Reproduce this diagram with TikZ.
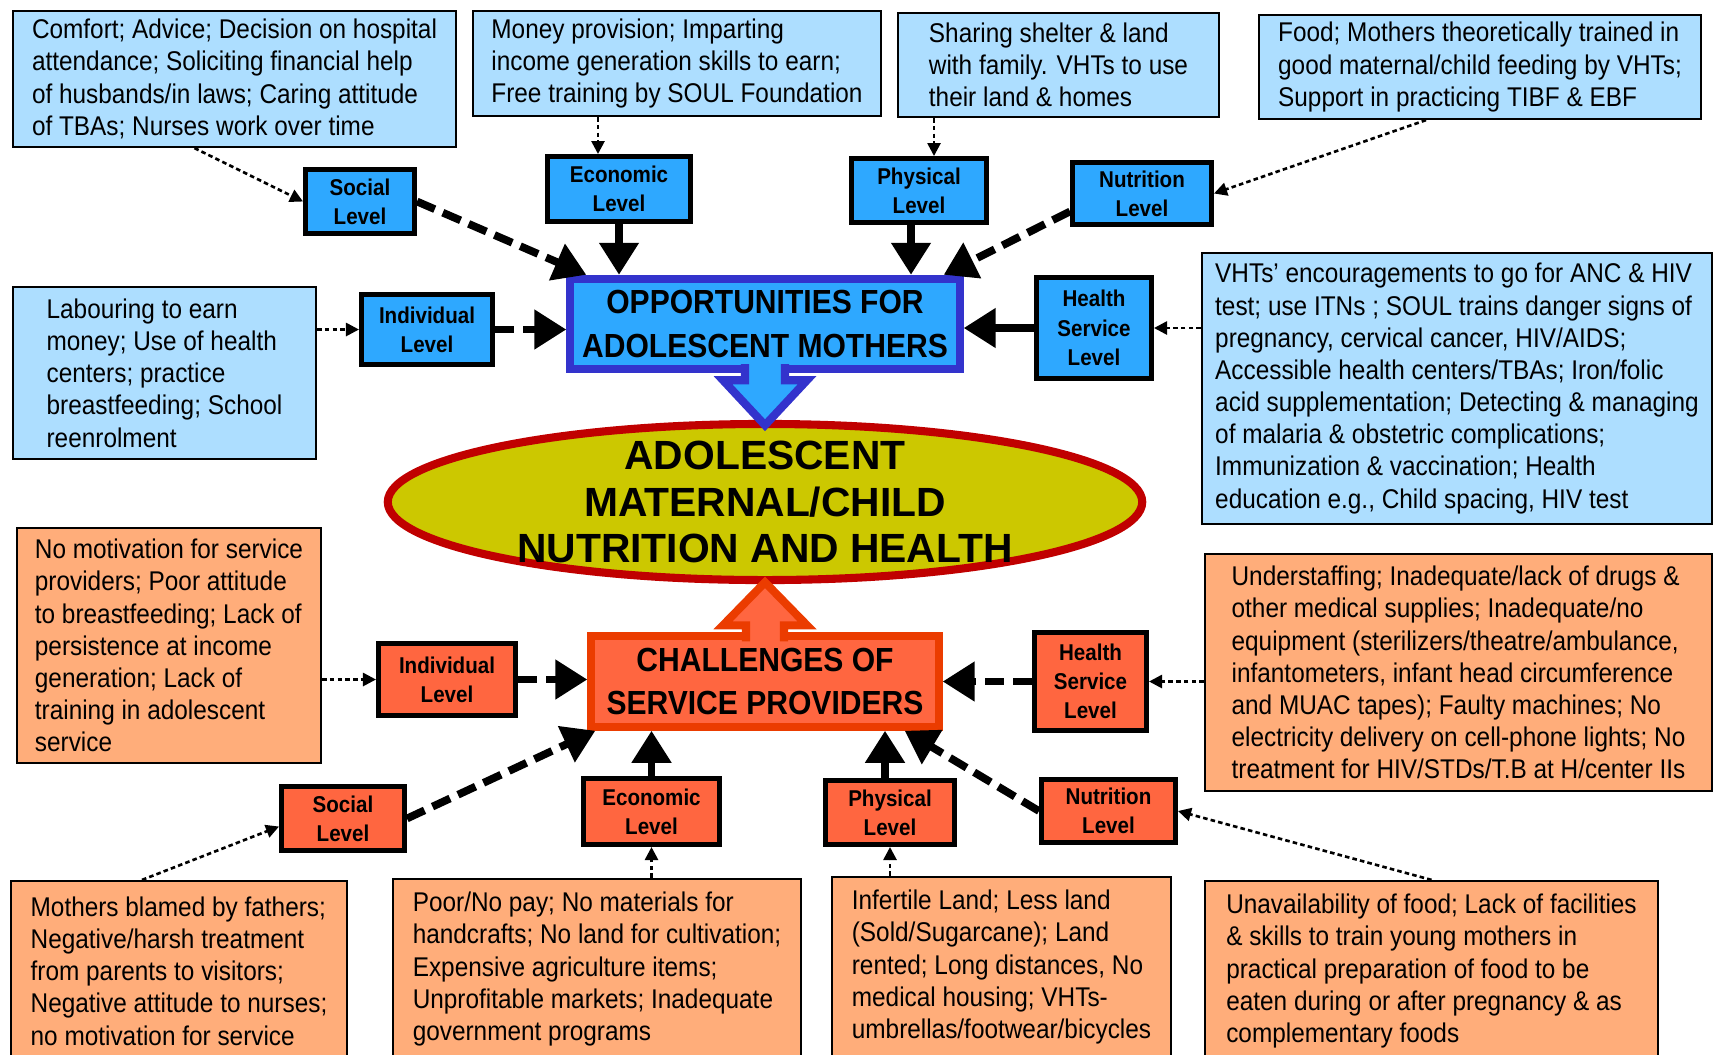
\documentclass[tikz,border=0pt]{standalone}
\usepackage{fontspec}
\setmainfont{Liberation Sans}[FakeStretch=0.9]
\newfontfamily\widefont{Liberation Sans}
\usepackage{tikz}
\usetikzlibrary{shapes.geometric, arrows.meta, calc}

\definecolor{optxt}{RGB}{173,222,255}
\definecolor{oplvl}{RGB}{46,168,255}
\definecolor{opedge}{RGB}{51,51,204}
\definecolor{chtxt}{RGB}{255,173,122}
\definecolor{chlvl}{RGB}{255,102,64}
\definecolor{chedge}{RGB}{235,60,0}
\definecolor{goalfill}{RGB}{204,200,0}
\definecolor{goaledge}{RGB}{192,0,0}

\begin{document}
\begin{tikzpicture}[x=0.01cm, y=-0.01cm]
    % Styles
    \tikzstyle{txtO} = [rectangle, draw=black, line width=0.6pt, fill=optxt, align=left, inner sep=0pt, font=\fontsize{7.7}{9.15}\selectfont]
    \tikzstyle{txtC} = [txtO, fill=chtxt]
    \tikzstyle{lvlO} = [rectangle, draw=black, line width=1.4pt, fill=oplvl, align=center, inner sep=0pt, font=\bfseries\fontsize{6.5}{8.3}\selectfont]
    \tikzstyle{lvlC} = [lvlO, fill=chlvl]
    \tikzstyle{thinarrow} = [-{Triangle[length=0.13cm, width=0.13cm]}, line width=0.75pt, dash pattern=on 1.3pt off 0.9pt]
    \tikzstyle{solidarrow} = [-{Triangle[length=0.32cm, width=0.38cm]}, line width=2.2pt]
    \tikzstyle{dasharrow} = [solidarrow, dash pattern=on 5.5pt off 2.5pt]

    \useasboundingbox (0,0) rectangle (1713,1054);

    % Opportunities side
    \node[txtO, minimum width=4.43cm, minimum height=1.36cm] (sTxtO) at (234.5,79) {Comfort; Advice; Decision on hospital\\attendance; Soliciting financial help\\of husbands/in laws;  Caring attitude\\of TBAs; Nurses work over time};
    \node[txtO, minimum width=4.08cm, minimum height=1.05cm] (eTxtO) at (677,63.5) {Money provision; Imparting\\income generation skills to earn;\\Free training by SOUL Foundation};
    \node[txtO, minimum width=3.21cm, minimum height=1.04cm] (pTxtO) at (1058.5,65) {Sharing shelter \& land\\with family. VHTs to use\\their land \& homes};
    \node[txtO, minimum width=4.42cm, minimum height=1.04cm] (nTxtO) at (1480,67) {Food; Mothers theoretically trained in\\good maternal/child feeding by VHTs;\\Support in practicing TIBF \& EBF};
    \node[txtO, minimum width=3.03cm, minimum height=1.72cm] (iTxtO) at (164.5,373) {Labouring to earn\\money; Use of health\\centers; practice\\breastfeeding; School\\reenrolment};
    \node[txtO, minimum width=5.10cm, minimum height=2.71cm] (hTxtO) at (1457,388.5) {VHTs’ encouragements to go for ANC \& HIV\\test; use ITNs ; SOUL trains danger signs of\\pregnancy, cervical cancer, HIV/AIDS;\\Accessible health centers/TBAs; Iron/folic\\acid supplementation; Detecting \& managing\\of malaria \& obstetric complications;\\Immunization \& vaccination; Health\\education e.g., Child spacing, HIV test};

    \node[lvlO, minimum width=1.09cm, minimum height=0.64cm] (sLvlO) at (360,201.5) {Social\\Level};
    \node[lvlO, minimum width=1.43cm, minimum height=0.65cm] (eLvlO) at (619,189) {Economic\\Level};
    \node[lvlO, minimum width=1.35cm, minimum height=0.64cm] (pLvlO) at (919,190.5) {Physical\\Level};
    \node[lvlO, minimum width=1.39cm, minimum height=0.62cm] (nLvlO) at (1142,193.5) {Nutrition\\Level};
    \node[lvlO, minimum width=1.31cm, minimum height=0.70cm] (iLvlO) at (427,329.5) {Individual\\Level};
    \node[lvlO, minimum width=1.15cm, minimum height=1.01cm] (hLvlO) at (1094,328) {Health\\Service\\Level};

    \node[rectangle, draw=opedge, line width=2.3pt, fill=oplvl, minimum width=3.83cm, minimum height=0.86cm, align=center, font=\bfseries\fontsize{9.5}{12.3}\selectfont] (opp) at (765,324) {OPPORTUNITIES FOR\\ADOLESCENT MOTHERS};

    % Centre
    \node[ellipse, draw=goaledge, line width=2.3pt, fill=goalfill, minimum width=7.54cm, minimum height=1.56cm, inner sep=0pt] (goal) at (765,502) {};
    \node[align=center, font=\widefont\bfseries\fontsize{11.6}{13.2}\selectfont] (goalTxt) at (goal.center) {ADOLESCENT\\MATERNAL/CHILD\\NUTRITION AND HEALTH};

    % Challenges side
    \node[rectangle, draw=chedge, line width=2.3pt, fill=chlvl, minimum width=3.47cm, minimum height=0.87cm, align=center, font=\bfseries\fontsize{9.5}{12.3}\selectfont] (chall) at (765,681.5) {CHALLENGES OF\\SERVICE PROVIDERS};

    \node[lvlC, minimum width=1.37cm, minimum height=0.72cm] (iLvlC) at (447,679.5) {Individual\\Level};
    \node[lvlC, minimum width=1.12cm, minimum height=0.98cm] (hLvlC) at (1090.5,681.5) {Health\\Service\\Level};
    \node[lvlC, minimum width=1.23cm, minimum height=0.64cm] (sLvlC) at (343,818.5) {Social\\Level};
    \node[lvlC, minimum width=1.36cm, minimum height=0.66cm] (eLvlC) at (651.5,811.5) {Economic\\Level};
    \node[lvlC, minimum width=1.29cm, minimum height=0.64cm] (pLvlC) at (890,812.5) {Physical\\Level};
    \node[lvlC, minimum width=1.34cm, minimum height=0.63cm] (nLvlC) at (1108.5,811) {Nutrition\\Level};

    \node[txtC, minimum width=3.04cm, minimum height=2.35cm] (iTxtC) at (169,645.5) {No motivation for service\\providers; Poor attitude\\to breastfeeding; Lack of\\persistence at income\\generation; Lack of\\training in adolescent\\service};
    \node[txtC, minimum width=5.07cm, minimum height=2.37cm] (hTxtC) at (1458.5,672.5) {Understaffing; Inadequate/lack of drugs \&\\other medical supplies; Inadequate/no\\equipment (sterilizers/theatre/ambulance,\\infantometers, infant head circumference\\and MUAC tapes); Faulty machines; No\\electricity delivery on cell-phone lights; No\\treatment for HIV/STDs/T.B at H/center IIs};
    \node[txtC, minimum width=3.36cm, minimum height=1.80cm] (sTxtC) at (179,971) {Mothers blamed by fathers;\\Negative/harsh treatment\\from parents to visitors;\\Negative attitude to nurses;\\no motivation for service};
    \node[txtC, minimum width=4.08cm, minimum height=1.80cm] (eTxtC) at (597,969) {Poor/No pay; No materials for\\handcrafts; No land for cultivation;\\Expensive agriculture items;\\Unprofitable markets; Inadequate\\government programs};
    \node[txtC, minimum width=3.39cm, minimum height=1.80cm] (pTxtC) at (1001.5,967) {Infertile Land; Less land\\(Sold/Sugarcane); Land\\rented; Long distances, No\\medical housing; VHTs-\\umbrellas/footwear/bicycles};
    \node[txtC, minimum width=4.53cm, minimum height=1.80cm] (nTxtC) at (1431.5,971) {Unavailability of food; Lack of facilities\\\& skills to train young mothers in\\practical preparation of food to be\\eaten during or after pregnancy \& as\\complementary foods};

    % Block arrows into the centre
    \filldraw[draw=opedge, fill=oplvl, line width=2.3pt, shift={(opp.south)}] (-20,-9) -- (-20,7) -- (-42,7) -- (0,52) -- (42,7) -- (20,7) -- (20,-9);
    \filldraw[draw=chedge, fill=chlvl, line width=2.3pt, shift={(chall.north)}] (-19,9) -- (-19,-7) -- (-42,-7) -- (0,-50) -- (42,-7) -- (19,-7) -- (19,9);

    % Arrows (opportunities)
    \draw[thinarrow] ($(sTxtO.south)+(-40,0)$) -- (sLvlO.west);
    \draw[dasharrow] (sLvlO.east) -- ($(opp.north west)+(20,0)$);
    \draw[thinarrow] ($(eTxtO.south)+(-79,0)$) -- ($(eLvlO.north)+(-21,0)$);
    \draw[solidarrow] (eLvlO.south) -- (eLvlO.south |- opp.north);
    \draw[thinarrow] ($(pTxtO.south)+(-124.5,0)$) -- ($(pLvlO.north)+(15,0)$);
    \draw[solidarrow] ($(pLvlO.south)+(-8,0)$) -- ($(pLvlO.south |- opp.north)+(-8,0)$);
    \draw[thinarrow] ($(nTxtO.south)+(-54,0)$) -- (nLvlO.east);
    \draw[dasharrow] ($(nLvlO.west)+(0,18)$) -- ($(opp.north east)+(-20,0)$);
    \draw[thinarrow] (iLvlO.west -| iTxtO.east) -- (iLvlO.west);
    \draw[dasharrow] (iLvlO.east) -- (iLvlO.east -| opp.west);
    \draw[thinarrow] (hLvlO.east -| hTxtO.west) -- (hLvlO.east);
    \draw[solidarrow] (hLvlO.west) -- (hLvlO.west -| opp.east);

    % Arrows (challenges)
    \draw[thinarrow] (iLvlC.west -| iTxtC.east) -- (iLvlC.west);
    \draw[dasharrow] (iLvlC.east) -- (iLvlC.east -| chall.west);
    \draw[thinarrow] (hLvlC.east -| hTxtC.west) -- (hLvlC.east);
    \draw[dasharrow] (hLvlC.west) -- (hLvlC.west -| chall.east);
    \draw[thinarrow] ($(sTxtC.north)+(-37,0)$) -- ($(sLvlC.west)+(0,8)$);
    \draw[dasharrow] (sLvlC.east) -- ($(chall.south west)+(8,0)$);
    \draw[thinarrow] (eTxtC.north -| eLvlC.south) -- (eLvlC.south);
    \draw[solidarrow] (eLvlC.north) -- (eLvlC.north |- chall.south);
    \draw[thinarrow] (pTxtC.north -| pLvlC.south) -- (pLvlC.south);
    \draw[solidarrow] ($(pLvlC.north)+(-5,0)$) -- ($(pLvlC.north |- chall.south)+(-5,0)$);
    \draw[thinarrow] (nTxtC.north) -- (nLvlC.east);
    \draw[dasharrow] (nLvlC.west) -- ($(chall.south east)+(-38,0)$);
\end{tikzpicture}
\end{document}
